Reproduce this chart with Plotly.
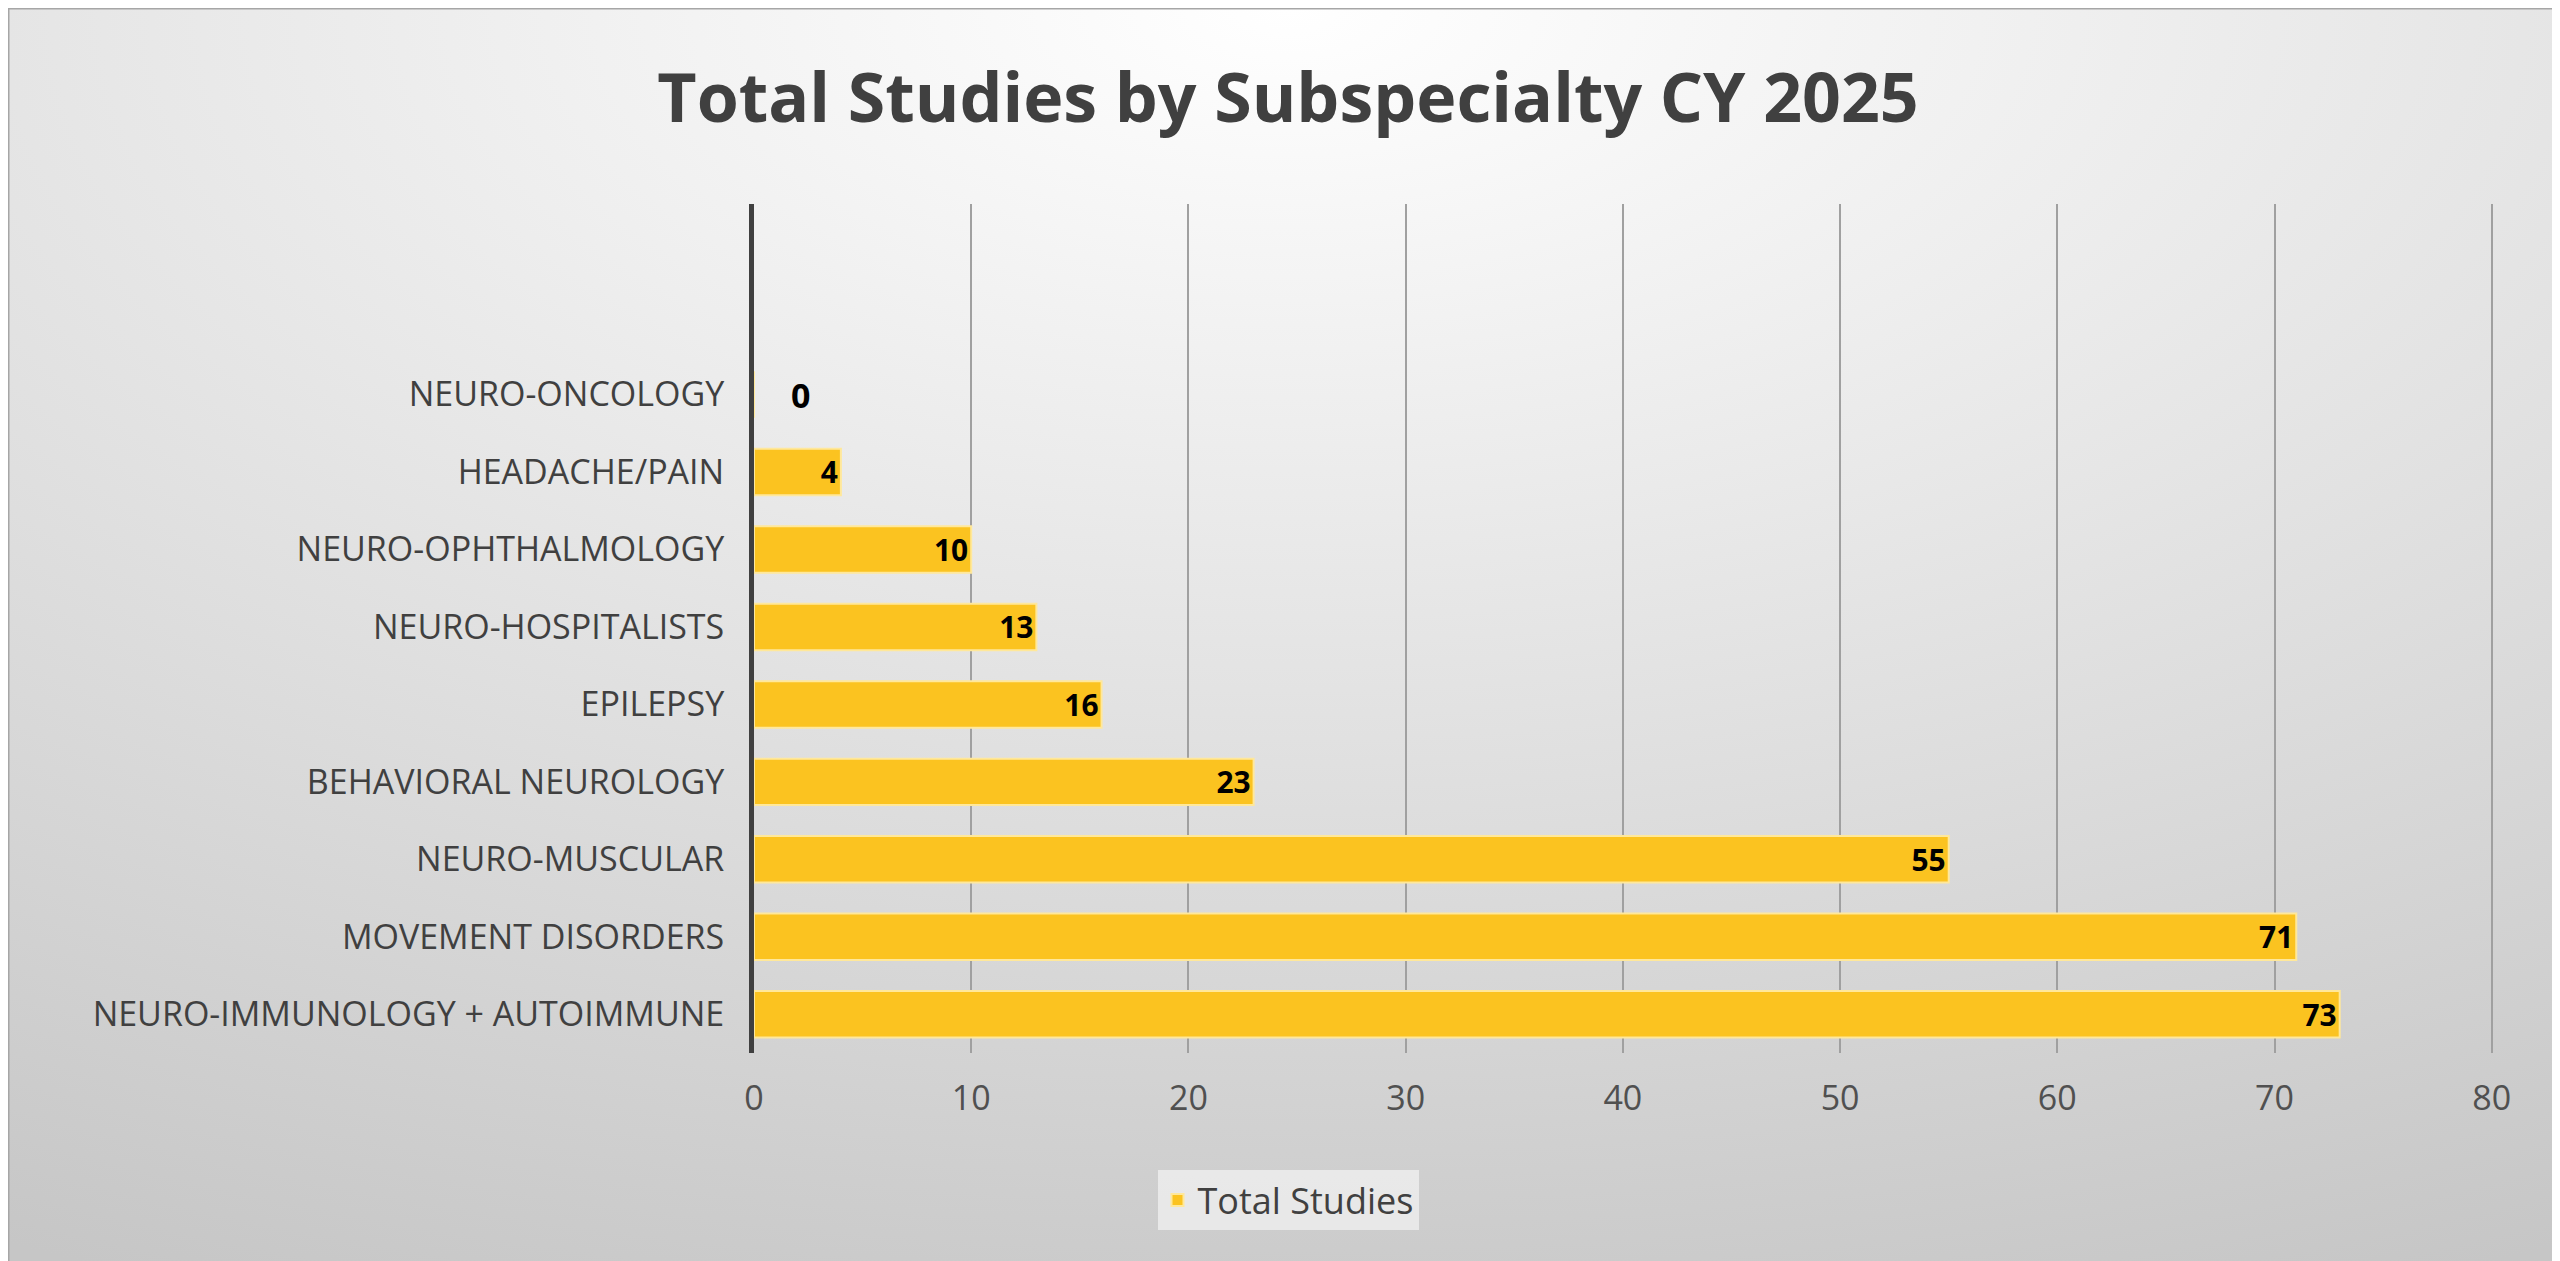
import base64
import plotly.graph_objects as go

categories = ["NEURO-IMMUNOLOGY + AUTOIMMUNE", "MOVEMENT DISORDERS", "NEURO-MUSCULAR",
              "BEHAVIORAL NEUROLOGY", "EPILEPSY", "NEURO-HOSPITALISTS",
              "NEURO-OPHTHALMOLOGY", "HEADACHE/PAIN", "NEURO-ONCOLOGY"]
values = [73, 71, 55, 23, 16, 13, 10, 4, 0]
x_ticks = [0, 10, 20, 30, 40, 50, 60, 70, 80]

W, H = 2560, 1261
L, R, T, B = 746, 73, 196, 216
pw, ph = W - L - R, H - T - B

svg = f'''<svg xmlns="http://www.w3.org/2000/svg" width="{W}" height="{H}" preserveAspectRatio="none">
<defs><radialGradient id="g" cx="50%" cy="0%" r="110%" fx="50%" fy="0%">
<stop offset="0%" stop-color="#ffffff"/><stop offset="100%" stop-color="#c6c6c6"/></radialGradient></defs>
<rect width="{W}" height="{H}" fill="url(#g)" stroke="#a6a6a6" stroke-width="3"/></svg>'''
uri = "data:image/svg+xml;base64," + base64.b64encode(svg.encode()).decode()

font = "Open Sans, Lato, sans-serif"
positions = ["inside" if v > 0 else "outside" for v in values]
labels = [str(v) if v > 0 else "\u2002\u2002" + str(v) for v in values]

fig = go.Figure(go.Bar(
    x=values, y=categories, orientation="h", name="Total Studies",
    marker=dict(color="#FBC320", line=dict(color="#FFE89A", width=2)),
    width=0.6, text=labels, textposition=positions, textangle=0,
    insidetextanchor="end", cliponaxis=False,
    textfont=dict(family=font, size=34, color="#000000", weight="bold"),
))
fig.update_layout(
    width=W, height=H, margin=dict(l=L, r=R, t=T, b=B),
    paper_bgcolor="#d0d0d0", plot_bgcolor="rgba(0,0,0,0)",
    images=[dict(source=uri, xref="paper", yref="paper", x=-L / pw, y=1 + T / ph,
                 sizex=W / pw, sizey=H / ph, xanchor="left", yanchor="top",
                 sizing="stretch", layer="below")],
    title=dict(text="<b>Total Studies by Subspecialty CY 2025</b>", x=0.5, xanchor="center",
               y=1 - 90 / H, yanchor="middle",
               font=dict(family=font, size=68, color="#404040")),
    showlegend=True,
    legend=dict(orientation="h", x=(1280 - L) / pw, xanchor="center", y=-(1192 - (H - B)) / ph,
                yanchor="middle", bgcolor="rgba(235,235,235,0.9)",
                font=dict(family=font, size=36, color="#404040"), itemwidth=30),
    xaxis=dict(range=[0, 80.15], tickvals=x_ticks, showgrid=True, gridcolor="#a0a0a0",
               gridwidth=2, zeroline=False, showline=False, ticks="", ticklabelstandoff=22,
               tickfont=dict(family=font, size=34, color="#505050")),
    yaxis=dict(type="category", range=[-0.5, 10.46], showgrid=False, showline=True,
               linecolor="#404040", linewidth=5, ticks="", ticklabelstandoff=18,
               tickfont=dict(family=font, size=34, color="#404040")),
)
fig.write_html("out.html")
